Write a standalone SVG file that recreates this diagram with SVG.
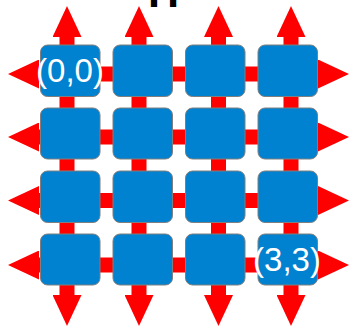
<svg xmlns="http://www.w3.org/2000/svg" width="351" height="328" viewBox="0 0 351 328">
  <style>
    .bar { stroke: #ff0000; stroke-width: 15; fill: none; marker-start: url(#head); marker-end: url(#head); }
    .box { fill: #0182d0; stroke: #7f7f7f; stroke-width: 1; }
    .lbl { fill: #ffffff; font-family: "Liberation Sans", Arial, sans-serif; font-size: 33px; text-anchor: middle; }
    .top { fill: #000000; font-family: "Liberation Sans", Arial, sans-serif; font-size: 43px; font-weight: bold; }
  </style>
  <defs>
    <marker id="head" viewBox="0 0 31 29" refX="1" refY="14.5" markerWidth="31" markerHeight="29" markerUnits="userSpaceOnUse" orient="auto-start-reverse">
      <path d="M0,0 L31,14.5 L0,29 Z" fill="#ff0000"/>
    </marker>
  </defs>
  <rect width="351" height="328" fill="#ffffff"/>
  <text class="top" x="148" y="6.5">H</text>
  <g id="connectors">
    <line class="bar" x1="38" y1="74" x2="319" y2="74"/>
    <line class="bar" x1="38" y1="137" x2="319" y2="137"/>
    <line class="bar" x1="38" y1="200.5" x2="319" y2="200.5"/>
    <line class="bar" x1="38" y1="265" x2="319" y2="265"/>
    <line class="bar" x1="67" y1="36" x2="67" y2="296"/>
    <line class="bar" x1="139" y1="36" x2="139" y2="296"/>
    <line class="bar" x1="218.5" y1="36" x2="218.5" y2="296"/>
    <line class="bar" x1="291" y1="36" x2="291" y2="296"/>
  </g>
  <g id="n00"><rect class="box" x="40.5" y="45" width="59.5" height="51.5" rx="7"/></g>
  <g id="n01"><rect class="box" x="113" y="45" width="59.5" height="51.5" rx="7"/></g>
  <g id="n02"><rect class="box" x="185.5" y="45" width="59.5" height="51.5" rx="7"/></g>
  <g id="n03"><rect class="box" x="258" y="45" width="59.5" height="51.5" rx="7"/></g>
  <g id="n10"><rect class="box" x="40.5" y="108" width="59.5" height="51" rx="7"/></g>
  <g id="n11"><rect class="box" x="113" y="108" width="59.5" height="51" rx="7"/></g>
  <g id="n12"><rect class="box" x="185.5" y="108" width="59.5" height="51" rx="7"/></g>
  <g id="n13"><rect class="box" x="258" y="108" width="59.5" height="51" rx="7"/></g>
  <g id="n20"><rect class="box" x="40.5" y="171" width="59.5" height="51.5" rx="7"/></g>
  <g id="n21"><rect class="box" x="113" y="171" width="59.5" height="51.5" rx="7"/></g>
  <g id="n22"><rect class="box" x="185.5" y="171" width="59.5" height="51.5" rx="7"/></g>
  <g id="n23"><rect class="box" x="258" y="171" width="59.5" height="51.5" rx="7"/></g>
  <g id="n30"><rect class="box" x="40.5" y="234" width="59.5" height="51" rx="7"/></g>
  <g id="n31"><rect class="box" x="113" y="234" width="59.5" height="51" rx="7"/></g>
  <g id="n32"><rect class="box" x="185.5" y="234" width="59.5" height="51" rx="7"/></g>
  <g id="n33"><rect class="box" x="258" y="234" width="59.5" height="51" rx="7"/></g>
  <g id="labels">
    <text class="lbl" x="70" y="81.5">(0,0)</text>
    <text class="lbl" x="287" y="270.5">(3,3)</text>
  </g>
</svg>
